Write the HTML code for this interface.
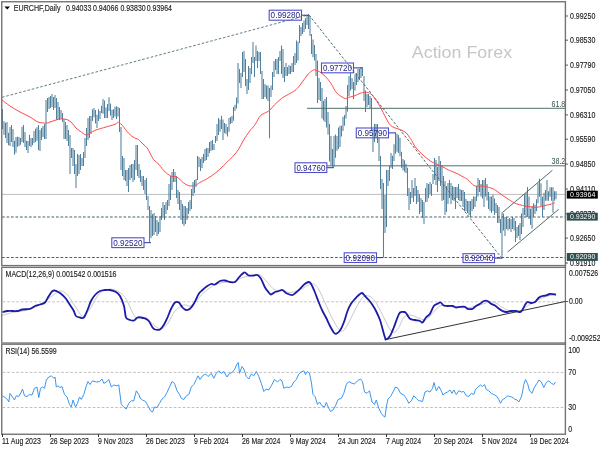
<!DOCTYPE html><html><head><meta charset="utf-8"><title>EURCHF Daily</title><style>
html,body{margin:0;padding:0;background:#fff;width:600px;height:450px;overflow:hidden}
svg{display:block}
text{font-family:"Liberation Sans", Arial, sans-serif;}
.t{stroke:#222;stroke-width:0.15px;paint-order:stroke}
</style></head><body>
<svg width="600" height="450" viewBox="0 0 600 450">
<rect x="0" y="0" width="600" height="450" fill="#fff"/>
<text x="411.8" y="58.4" font-size="16.9" fill="#c6c6c6" textLength="100.3" lengthAdjust="spacingAndGlyphs">Action Forex</text>
<defs><clipPath id="cm"><rect x="2" y="2" width="563" height="263"/></clipPath><clipPath id="cd"><rect x="2" y="267" width="564" height="76"/></clipPath><clipPath id="cr"><rect x="2" y="344.5" width="564" height="89.5"/></clipPath></defs>
<g clip-path="url(#cm)">
<line x1="2" y1="194.4" x2="566" y2="194.4" stroke="#bdbdbd" stroke-width="1"/>
<path d="M2.5 109V129M4 121.3V134.7M5.5 122.7V138M7 122V143M8.5 132.7V145.3M10 127V146M11.5 125V142M13 129V147M14.5 140.7V154.7M16 137V152.7M17.5 136.7V146.7M19 137V146M20.5 138V144.7M22 126.7V142M23.5 125V143M25 132V147M26.5 140.7V150M28 141V153M29.5 134.7V146M31 138V147.3M32.5 138V145.3M34 131V143M35.5 128.7V142M37 127.3V140.7M38.5 125V150M40 130V151M41.5 128V140M43 126V137M44.5 124V139M46 100V139M47.5 98V112M49 97V109M50.5 96V108M52 94V107M53.5 97V110M55 95V108M56.5 98V120M58 102V119M59.5 107V120M61 110V119M62.5 113V122M64 119V139M65.5 122V139M67 125V141M68.5 130V146M70 135V174M71.5 148V158M73 148V166M74.5 150V174M76 164V188M77.5 154V176M79 155V174M80.5 154V170M82 158V166M83.5 152V166M85 138V158M86.5 128V146M88 118V140M89.5 116V138M91 116V134M92.5 109.3V121M94 108V117.3M95.5 110V123.5M97 114.7V128M98.5 109.3V121M100 111V119M101.5 105.8V113M103 99V113.8M104.5 100.4V118M106 107.6V118M107.5 104V118M109 97.3V111M110.5 103.55V115.5M112 109.8V120M113.5 109.3V118M115 106.7V116.4M116.5 106.2V119M118 107V116.4M119.5 108V132M121 127V170M122.5 156V176M124 158V180M125.5 170V181M127 170V186M128.5 168V192M130 165V180M131.5 164V178M133 164V182M134.5 160V180M136 145V170M137.5 145V176M139 164V178M140.5 170V182M142 176V186M143.5 176V190M145 180V194M146.5 178V200M148 196V210M149.5 206V242.5M151 210V238M152.5 214V236M154 213V235M155.5 216V232M157 220V236M158.5 222V234M160 216V232M161.5 208V220M163 202V218M164.5 205V220M166 202V214M167.5 200V210M169 184V206M170.5 176V200M172 172V190M173.5 169V182M175 172V182M176.5 176V198M178 190V204M179.5 192V210M181 200V220M182.5 204V224M184 206V226M185.5 206V224M187 208V220M188.5 202V214M190 200V211M191.5 189V209M193 182V196M194.5 180V193M196 179V187M197.5 156V180M199 157V167M200.5 159V171M202 157V168M203.5 154V163M205 149V161M206.5 148V160M208 148V157M209.5 142V153M211 141V151M212.5 140V150M214 144V150M215.5 136V143M217 124V141M218.5 118V135M220 119.5V131.7M221.5 115.8V129M223 119.5V140M224.5 123V133M226 124V134M227.5 127V136.5M229 118V131.7M230.5 117V124M232 115.8V123M233.5 107V120.7M235 104.8V111M236.5 97.4V108.4M238 63V103.6M239.5 69V83M241 73V88M242.5 52V77M244 51V72M245.5 59V86M247 79V94M248.5 66V90M250 68V83M251.5 57V74M253 42V63M254.5 57V77M256 45.5V61M257.5 51V68M259 52V61M260.5 52V74M262 71V99M263.5 79V99M265 84V97M266.5 85.5V99M268 85.5V101M269.5 88V138.3M271 85.5V97M272.5 72V90M274 61V77M275.5 59V70M277 59V74M278.5 57V74M280 51V61M281.5 45.5V74M283 49V78M284.5 67V82M286 63V76M287.5 67V76M289 65V74M290.5 66V74M292 63V72M293.5 56V72M295 53V65M296.5 40.5V63M298 41.7V60.5M299.5 25V43M301 27V36M302.5 23V34M304 20.5V32M305.5 18V29M307 15V25M308.5 14V29M310 16V36M311.5 34V54M313 39.5V57.25M314.5 45V60.5M316 54V76M317.5 60.5V103M319 78V100M320.5 82V101M322 88V118.6M323.5 100.7V120.4M325 99V122M326.5 97V127.5M328 112V134.6M329.5 124V161.4M331 136V165M332.5 149V166.8M334 136V166.8M335.5 134.6V157.8M337 136V150.7M338.5 127.5V149M340 125.7V147M341.5 125.7V136.4M343 116.8V131M344.5 115V125.7M346 106V118.6M347.5 85V111.4M349 76V96M350.5 73V90.5M352 78V89M353.5 82V99M355 74.5V90.5M356.5 73V85M358 69V82M359.5 69V80M361 67V78M362.5 67V76M364 76V101M365.5 90.5V112M367 94V107M368.5 94V105M370 96V108M371.5 98V131M373 129V152M374.5 124V142M376 124V138M377.5 124V143M379 138V161M380.5 156V189M382 179V209M383.5 183V257M385 195V233M386.5 170V227M388 170V186M389.5 166V181M391 153V167.7M392.5 155.7V169M394 144.3V161M395.5 133V153.7M397 133.7V151.7M398.5 135V153M400 137.7V156.3M401.5 151.7V167.7M403 159V170.3M404.5 160.3V171.7M406 163.7V173M407.5 167.7V196M409 188V210M410.5 192V204M412 180V198M413.5 188V202M415 178V196M416.5 186V204M418 190V202M419.5 194V214M421 198V212M422.5 200V218M424 202V224M425.5 188V202M427 183V202M428.5 184V198M430 182V194M431.5 184V196M433 174V184M434.5 158V180M436 160V185M437.5 167V192M439 156V181M440.5 161V186M442 165.5V201M443.5 176V200M445 181V215M446.5 186V212M448 183V204M449.5 180V198M451 183V204M452.5 186V200M454 187V201M455.5 187V209M457 187V198M458.5 184V200M460 189V201M461.5 190V201M463 190V207M464.5 192V211M466 199V211M467.5 201V213M469 201V215M470.5 201V217M472 199V211M473.5 196.5V209M475 196.5V207M476.5 186V201M478 178V196.5M479.5 180V192M481 184V196.5M482.5 180V198.5M484 180V207M485.5 178V196.5M487 184V200.6M488.5 192V209M490 196.5V211M491.5 196.5V213M493 194.5V211M494.5 198.5V215M496 203V213M497.5 205V223M499 207V223M500.5 219V233M502 212.4V258.4M503.5 213.5V230.5M505 217V236M506.5 217V229M508 219V230.5M509.5 218V229M511 219V232M512.5 217V229M514 218V230.5M515.5 221V242M517 227V238M518.5 225V236M520 223V240M521.5 213.5V234M523 208V227M524.5 194.5V215M526 193V217M527.5 187V217M529 196.5V219M530.5 208.7V224.7M532 206V228.7M533.5 203.3V216.7M535 204.7V214M536.5 199.3V211.3M538 183.3V203.3M539.5 178.7V196.7M541 183.3V206M542.5 196.7V216.7M544 192.7V210M545.5 190V200.7M547 180V200.7M548.5 191.3V200.7M550 187.3V196.7M551.5 187.3V200.7M553 187.3V212.7M554.5 191.3V200.7M556 191.3V199.3" stroke="#52819f" stroke-width="1.05" fill="none"/>
<line x1="2" y1="217" x2="566" y2="217" stroke="#456464" stroke-width="1.1" stroke-dasharray="2.7,1.8"/>
<line x1="2" y1="257.5" x2="566" y2="257.5" stroke="#456464" stroke-width="1.1" stroke-dasharray="2.7,1.8"/>
<line x1="307" y1="108.3" x2="566" y2="108.3" stroke="#4f6f6a" stroke-width="1"/>
<line x1="326.8" y1="165.8" x2="566" y2="165.8" stroke="#4f6f6a" stroke-width="1"/>
<text x="551.5" y="106.9" font-size="8.73" textLength="13.82" lengthAdjust="spacingAndGlyphs" fill="#2f4f4f">61.8</text>
<text x="551.5" y="164.4" font-size="8.73" textLength="13.82" lengthAdjust="spacingAndGlyphs" fill="#2f4f4f">38.2</text>
<line x1="2" y1="97.3" x2="308" y2="15" stroke="#648080" stroke-width="1" stroke-dasharray="2.6,1.8"/>
<line x1="309" y1="15" x2="501.8" y2="258.2" stroke="#4a6a6a" stroke-width="1" stroke-dasharray="2.6,1.8"/>
<line x1="502.4" y1="212.5" x2="552.4" y2="170.3" stroke="#3d5c5c" stroke-width="0.9"/>
<line x1="507.7" y1="251.9" x2="558.7" y2="209.3" stroke="#3d5c5c" stroke-width="0.9"/>
<path d="M2,100C3.33,101.00 7.00,104.00 10,106C13.00,108.00 16.67,110.17 20,112C23.33,113.83 27.00,115.33 30,117C33.00,118.67 35.33,121.00 38,122C40.67,123.00 44.00,123.00 46,123C48.00,123.00 48.33,122.50 50,122C51.67,121.50 54.33,120.50 56,120C57.67,119.50 58.67,119.17 60,119C61.33,118.83 62.67,118.83 64,119C65.33,119.17 66.67,119.33 68,120C69.33,120.67 70.67,121.67 72,123C73.33,124.33 74.67,126.67 76,128C77.33,129.33 78.33,129.83 80,131C81.67,132.17 84.33,134.67 86,135C87.67,135.33 88.33,133.83 90,133C91.67,132.17 93.33,131.00 96,130C98.67,129.00 102.83,127.95 106,127C109.17,126.05 112.92,125.10 115,124.3C117.08,123.50 117.50,122.25 118.5,122.2C119.50,122.15 120.08,123.12 121,124C121.92,124.88 123.00,126.25 124,127.5C125.00,128.75 126.00,130.33 127,131.5C128.00,132.67 129.00,133.58 130,134.5C131.00,135.42 132.00,136.33 133,137C134.00,137.67 135.08,138.08 136,138.5C136.92,138.92 137.67,138.92 138.5,139.5C139.33,140.08 140.08,141.08 141,142C141.92,142.92 143.00,144.03 144,145C145.00,145.97 146.00,146.47 147,147.8C148.00,149.13 148.92,151.05 150,153C151.08,154.95 152.02,157.60 153.5,159.5C154.98,161.40 157.48,162.90 158.9,164.4C160.32,165.90 160.98,167.27 162,168.5C163.02,169.73 163.50,170.52 165,171.8C166.50,173.08 169.17,175.38 171,176.2C172.83,177.02 174.50,176.15 176,176.7C177.50,177.25 178.77,178.48 180,179.5C181.23,180.52 182.23,181.88 183.4,182.8C184.57,183.72 185.78,184.47 187,185C188.22,185.53 189.27,185.97 190.7,186C192.13,186.03 194.05,185.78 195.6,185.2C197.15,184.62 197.97,183.65 200,182.5C202.03,181.35 205.20,179.90 207.8,178.3C210.40,176.70 213.02,174.97 215.6,172.9C218.18,170.83 220.98,168.10 223.3,165.9C225.62,163.70 227.68,161.52 229.5,159.7C231.32,157.88 232.63,156.82 234.2,155C235.77,153.18 237.35,151.27 238.9,148.8C240.45,146.33 241.68,143.18 243.5,140.2C245.32,137.22 247.98,133.33 249.8,130.9C251.62,128.47 252.87,127.78 254.4,125.6C255.93,123.42 257.73,119.67 259,117.8C260.27,115.93 260.72,115.33 262,114.4C263.28,113.47 265.37,112.93 266.7,112.2C268.03,111.47 268.72,111.20 270,110C271.28,108.80 272.45,106.95 274.4,105C276.35,103.05 279.38,100.07 281.7,98.3C284.02,96.53 286.08,95.68 288.3,94.4C290.52,93.12 293.30,91.83 295,90.6C296.70,89.37 297.38,88.30 298.5,87C299.62,85.70 300.62,84.25 301.7,82.8C302.78,81.35 303.90,79.78 305,78.3C306.10,76.82 307.00,75.23 308.3,73.9C309.60,72.57 311.68,70.95 312.8,70.3C313.92,69.65 313.90,69.77 315,70C316.10,70.23 317.73,70.68 319.4,71.7C321.07,72.72 323.13,74.25 325,76.1C326.87,77.95 328.93,80.38 330.6,82.8C332.27,85.22 333.65,88.62 335,90.6C336.35,92.58 336.98,93.35 338.7,94.7C340.42,96.05 343.92,98.20 345.3,98.7C346.68,99.20 345.55,98.15 347,97.7C348.45,97.25 351.67,96.78 354,96C356.33,95.22 358.88,93.62 361,93C363.12,92.38 364.87,91.97 366.7,92.3C368.53,92.63 369.95,92.92 372,95C374.05,97.08 376.50,100.63 379,104.8C381.50,108.97 385.12,116.63 387,120C388.88,123.37 389.13,123.75 390.3,125C391.47,126.25 392.67,126.83 394,127.5C395.33,128.17 396.97,128.50 398.3,129C399.63,129.50 400.67,129.83 402,130.5C403.33,131.17 405.02,131.83 406.3,133C407.58,134.17 408.80,136.25 409.7,137.5C410.60,138.75 410.82,139.00 411.7,140.5C412.58,142.00 413.73,144.67 415,146.5C416.27,148.33 417.80,149.92 419.3,151.5C420.80,153.08 422.38,154.58 424,156C425.62,157.42 427.50,158.92 429,160C430.50,161.08 431.38,161.67 433,162.5C434.62,163.33 437.03,164.25 438.7,165C440.37,165.75 441.38,166.18 443,167C444.62,167.82 446.73,169.10 448.4,169.9C450.07,170.70 451.40,171.12 453,171.8C454.60,172.48 456.33,173.17 458,174C459.67,174.83 461.37,175.87 463,176.8C464.63,177.73 465.97,178.15 467.8,179.6C469.63,181.05 472.13,184.43 474,185.5C475.87,186.57 477.37,185.88 479,186C480.63,186.12 482.22,185.98 483.8,186.2C485.38,186.42 486.90,186.83 488.5,187.3C490.10,187.77 491.82,188.22 493.4,189C494.98,189.78 496.40,190.88 498,192C499.60,193.12 501.33,194.53 503,195.7C504.67,196.87 506.38,197.95 508,199C509.62,200.05 511.20,201.17 512.7,202C514.20,202.83 515.38,203.43 517,204C518.62,204.57 520.73,204.98 522.4,205.4C524.07,205.82 525.40,206.23 527,206.5C528.60,206.77 530.33,206.87 532,207C533.67,207.13 535.38,207.42 537,207.3C538.62,207.18 540.20,206.63 541.7,206.3C543.20,205.97 544.38,205.68 546,205.3C547.62,204.92 549.90,204.45 551.4,204C552.90,203.55 554.40,202.83 555,202.6" fill="none" stroke="#ff4a4a" stroke-width="1"/>
<line x1="301.5" y1="15.2" x2="308.5" y2="15.2" stroke="#3030a0" stroke-width="1"/>
<rect x="269.2" y="10.2" width="32.3" height="10.0" fill="none" stroke="#5050c8" stroke-width="1.1"/>
<text x="270.6" y="18.2" font-size="8.4" fill="#24248c" textLength="29.5" lengthAdjust="spacingAndGlyphs">0.99280</text>
<line x1="353.5" y1="67.9" x2="362.0" y2="67.9" stroke="#3030a0" stroke-width="1"/>
<rect x="321.5" y="63.0" width="32.0" height="9.8" fill="none" stroke="#5050c8" stroke-width="1.1"/>
<text x="322.9" y="70.9" font-size="8.4" fill="#24248c" textLength="29.2" lengthAdjust="spacingAndGlyphs">0.97720</text>
<line x1="388.5" y1="132.9" x2="396.0" y2="132.9" stroke="#3030a0" stroke-width="1"/>
<rect x="356.3" y="128.0" width="32.2" height="9.8" fill="none" stroke="#5050c8" stroke-width="1.1"/>
<text x="357.7" y="135.9" font-size="8.4" fill="#24248c" textLength="29.4" lengthAdjust="spacingAndGlyphs">0.95790</text>
<line x1="326.8" y1="167.7" x2="334.0" y2="167.7" stroke="#3030a0" stroke-width="1"/>
<rect x="295.0" y="162.8" width="31.8" height="9.7" fill="none" stroke="#5050c8" stroke-width="1.1"/>
<text x="296.4" y="170.7" font-size="8.4" fill="#24248c" textLength="29.0" lengthAdjust="spacingAndGlyphs">0.94760</text>
<line x1="144.0" y1="242.7" x2="151.0" y2="242.7" stroke="#3030a0" stroke-width="1"/>
<rect x="111.8" y="237.8" width="32.2" height="9.8" fill="none" stroke="#5050c8" stroke-width="1.1"/>
<text x="113.2" y="245.7" font-size="8.4" fill="#24248c" textLength="29.4" lengthAdjust="spacingAndGlyphs">0.92520</text>
<line x1="376.5" y1="257.6" x2="383.5" y2="257.6" stroke="#3030a0" stroke-width="1"/>
<rect x="344.2" y="252.8" width="32.3" height="9.7" fill="none" stroke="#5050c8" stroke-width="1.1"/>
<text x="345.6" y="260.6" font-size="8.4" fill="#24248c" textLength="29.5" lengthAdjust="spacingAndGlyphs">0.92090</text>
<line x1="494.5" y1="258.1" x2="502.0" y2="258.1" stroke="#3030a0" stroke-width="1"/>
<rect x="463.0" y="253.7" width="31.5" height="8.9" fill="none" stroke="#5050c8" stroke-width="1.1"/>
<text x="464.4" y="261.1" font-size="8.4" fill="#24248c" textLength="28.7" lengthAdjust="spacingAndGlyphs">0.92040</text>
</g>
<path d="M4.4 6.5 L10 6.5 L7.2 9.5 Z" fill="#000"/>
<text x="13.8" y="10.6" class="t" font-size="8.61" textLength="46.67" lengthAdjust="spacingAndGlyphs" fill="#222">EURCHF,Daily</text>
<text x="66" y="10.6" class="t" font-size="8.61" textLength="25.30" lengthAdjust="spacingAndGlyphs" fill="#222">0.94033</text>
<text x="93" y="10.6" class="t" font-size="8.61" textLength="25.30" lengthAdjust="spacingAndGlyphs" fill="#222">0.94066</text>
<text x="120.4" y="10.6" class="t" font-size="8.61" textLength="25.30" lengthAdjust="spacingAndGlyphs" fill="#222">0.93830</text>
<text x="146.7" y="10.6" class="t" font-size="8.61" textLength="25.30" lengthAdjust="spacingAndGlyphs" fill="#222">0.93964</text>
<g clip-path="url(#cd)">
<line x1="2" y1="301.8" x2="566" y2="301.8" stroke="#c4c4c4" stroke-width="1" stroke-dasharray="2.7,1.8" stroke-dashoffset="-0.7"/>
<path d="M2,315.5C3.75,315.00 8.67,313.33 12.5,312.5C16.33,311.67 20.83,311.58 25,310.5C29.17,309.42 33.33,308.17 37.5,306C41.67,303.83 46.25,300.00 50,297.5C53.75,295.00 57.08,291.42 60,291C62.92,290.58 65.00,292.50 67.5,295C70.00,297.50 72.50,302.50 75,306C77.50,309.50 80.00,315.50 82.5,316C85.00,316.50 87.50,312.33 90,309C92.50,305.67 95.00,299.17 97.5,296C100.00,292.83 102.08,291.00 105,290C107.92,289.00 111.67,288.75 115,290C118.33,291.25 122.08,293.75 125,297.5C127.92,301.25 130.67,309.17 132.5,312.5C134.33,315.83 133.92,316.67 136,317.5C138.08,318.33 143.08,317.28 145,317.5C146.92,317.72 145.83,317.38 147.5,318.8C149.17,320.22 152.75,324.33 155,326C157.25,327.67 158.92,329.17 161,328.8C163.08,328.43 165.17,326.77 167.5,323.8C169.83,320.83 172.25,314.13 175,311C177.75,307.87 181.50,305.83 184,305C186.50,304.17 188.00,306.67 190,306C192.00,305.33 193.67,303.25 196,301C198.33,298.75 201.25,295.00 204,292.5C206.75,290.00 209.42,287.67 212.5,286C215.58,284.33 219.17,283.17 222.5,282.5C225.83,281.83 229.17,282.83 232.5,282C235.83,281.17 239.17,278.58 242.5,277.5C245.83,276.42 249.58,275.92 252.5,275.5C255.42,275.08 257.50,273.83 260,275C262.50,276.17 265.00,280.00 267.5,282.5C270.00,285.00 272.08,288.58 275,290C277.92,291.42 282.50,290.58 285,291C287.50,291.42 287.50,292.67 290,292.5C292.50,292.33 296.50,291.45 300,290C303.50,288.55 308.08,284.22 311,283.8C313.92,283.38 315.37,284.80 317.5,287.5C319.63,290.20 321.72,295.62 323.8,300C325.88,304.38 327.72,309.22 330,313.8C332.28,318.38 335.42,324.63 337.5,327.5C339.58,330.37 340.83,331.42 342.5,331C344.17,330.58 345.42,328.50 347.5,325C349.58,321.50 352.50,314.58 355,310C357.50,305.42 360.20,299.83 362.5,297.5C364.80,295.17 366.72,295.42 368.8,296C370.88,296.58 372.72,297.83 375,301C377.28,304.17 380.20,310.58 382.5,315C384.80,319.42 386.92,324.58 388.8,327.5C390.68,330.42 392.13,332.50 393.8,332.5C395.47,332.50 397.13,330.00 398.8,327.5C400.47,325.00 401.93,319.58 403.8,317.5C405.67,315.42 407.72,315.00 410,315C412.28,315.00 415.00,316.67 417.5,317.5C420.00,318.33 422.92,320.25 425,320C427.08,319.75 427.50,318.33 430,316C432.50,313.67 436.67,307.67 440,306C443.33,304.33 446.67,305.75 450,306C453.33,306.25 456.67,307.25 460,307.5C463.33,307.75 466.67,307.92 470,307.5C473.33,307.08 477.08,305.83 480,305C482.92,304.17 485.00,302.92 487.5,302.5C490.00,302.08 492.50,301.67 495,302.5C497.50,303.33 500.00,306.12 502.5,307.5C505.00,308.88 507.08,310.22 510,310.8C512.92,311.38 517.08,311.80 520,311C522.92,310.20 524.58,307.83 527.5,306C530.42,304.17 534.17,301.67 537.5,300C540.83,298.33 544.42,296.83 547.5,296C550.58,295.17 554.58,295.17 556,295" fill="none" stroke="#c8c8c8" stroke-width="1"/>
<line x1="386" y1="339.5" x2="566" y2="301.3" stroke="#333" stroke-width="1"/>
<path d="M2.5,312C3.33,311.83 5.83,311.17 7.5,311C9.17,310.83 10.83,311.00 12.5,311C14.17,311.00 15.83,311.25 17.5,311C19.17,310.75 20.42,309.87 22.5,309.5C24.58,309.13 27.92,309.38 30,308.8C32.08,308.22 33.33,306.72 35,306C36.67,305.28 38.33,305.08 40,304.5C41.67,303.92 43.53,303.92 45,302.5C46.47,301.08 47.55,297.92 48.8,296C50.05,294.08 51.30,291.87 52.5,291C53.70,290.13 54.58,290.33 56,290.8C57.42,291.27 59.33,292.47 61,293.8C62.67,295.13 64.50,296.93 66,298.8C67.50,300.67 68.70,302.97 70,305C71.30,307.03 72.80,309.17 73.8,311C74.80,312.83 74.97,314.92 76,316C77.03,317.08 78.70,317.25 80,317.5C81.30,317.75 82.55,318.75 83.8,317.5C85.05,316.25 86.30,312.75 87.5,310C88.70,307.25 89.75,303.50 91,301C92.25,298.50 93.50,296.67 95,295C96.50,293.33 98.33,291.83 100,291C101.67,290.17 103.33,290.17 105,290C106.67,289.83 108.17,289.67 110,290C111.83,290.33 114.33,291.00 116,292C117.67,293.00 118.67,293.67 120,296C121.33,298.33 123.00,302.42 124,306C125.00,309.58 125.00,315.17 126,317.5C127.00,319.83 128.67,319.50 130,320C131.33,320.50 132.75,320.92 134,320.5C135.25,320.08 136.33,318.00 137.5,317.5C138.67,317.00 139.75,317.33 141,317.5C142.25,317.67 143.70,317.92 145,318.5C146.30,319.08 147.55,319.50 148.8,321C150.05,322.50 151.47,326.08 152.5,327.5C153.53,328.92 153.75,329.17 155,329.5C156.25,329.83 158.53,330.25 160,329.5C161.47,328.75 162.55,327.00 163.8,325C165.05,323.00 166.30,320.17 167.5,317.5C168.70,314.83 169.75,311.50 171,309C172.25,306.50 173.70,303.58 175,302.5C176.30,301.42 177.55,301.67 178.8,302.5C180.05,303.33 181.30,306.25 182.5,307.5C183.70,308.75 184.75,309.78 186,310C187.25,310.22 188.70,309.83 190,308.8C191.30,307.77 192.33,306.30 193.8,303.8C195.27,301.30 197.35,296.10 198.8,293.8C200.25,291.50 201.30,291.13 202.5,290C203.70,288.87 204.58,288.00 206,287C207.42,286.00 209.50,284.42 211,284C212.50,283.58 213.50,285.00 215,284.5C216.50,284.00 218.33,281.67 220,281C221.67,280.33 223.33,280.33 225,280.5C226.67,280.67 228.33,281.75 230,282C231.67,282.25 233.53,282.75 235,282C236.47,281.25 237.55,278.87 238.8,277.5C240.05,276.13 241.47,274.63 242.5,273.8C243.53,272.97 243.95,272.22 245,272.5C246.05,272.78 247.33,275.00 248.8,275.5C250.27,276.00 252.35,275.58 253.8,275.5C255.25,275.42 256.30,274.45 257.5,275C258.70,275.55 259.75,276.72 261,278.8C262.25,280.88 263.70,285.22 265,287.5C266.30,289.78 267.80,291.33 268.8,292.5C269.80,293.67 269.97,294.58 271,294.5C272.03,294.42 273.70,292.58 275,292C276.30,291.42 277.55,291.33 278.8,291C280.05,290.67 281.30,289.67 282.5,290C283.70,290.33 284.83,292.25 286,293C287.17,293.75 288.42,294.17 289.5,294.5C290.58,294.83 291.42,295.33 292.5,295C293.58,294.67 294.75,293.53 296,292.5C297.25,291.47 298.50,290.25 300,288.8C301.50,287.35 303.53,284.93 305,283.8C306.47,282.67 307.80,282.00 308.8,282C309.80,282.00 309.97,282.05 311,283.8C312.03,285.55 313.70,289.38 315,292.5C316.30,295.62 317.55,299.42 318.8,302.5C320.05,305.58 321.30,308.50 322.5,311C323.70,313.50 324.75,315.00 326,317.5C327.25,320.00 328.70,323.50 330,326C331.30,328.50 332.80,331.20 333.8,332.5C334.80,333.80 334.97,334.13 336,333.8C337.03,333.47 338.70,332.38 340,330.5C341.30,328.62 342.55,325.75 343.8,322.5C345.05,319.25 346.30,314.12 347.5,311C348.70,307.88 349.75,305.83 351,303.8C352.25,301.77 353.70,300.27 355,298.8C356.30,297.33 357.63,295.97 358.8,295C359.97,294.03 360.97,292.83 362,293C363.03,293.17 363.87,294.83 365,296C366.13,297.17 367.55,298.50 368.8,300C370.05,301.50 371.30,303.17 372.5,305C373.70,306.83 374.75,308.50 376,311C377.25,313.50 378.92,317.03 380,320C381.08,322.97 381.67,325.88 382.5,328.8C383.33,331.72 384.42,335.72 385,337.5C385.58,339.28 385.17,339.75 386,339.5C386.83,339.25 388.70,338.00 390,336C391.30,334.00 392.55,330.58 393.8,327.5C395.05,324.42 396.47,320.00 397.5,317.5C398.53,315.00 398.95,313.42 400,312.5C401.05,311.58 402.80,311.92 403.8,312C404.80,312.08 404.97,311.87 406,313C407.03,314.13 408.50,317.63 410,318.8C411.50,319.97 413.33,319.63 415,320C416.67,320.37 418.75,320.58 420,321C421.25,321.42 421.50,323.08 422.5,322.5C423.50,321.92 424.75,318.95 426,317.5C427.25,316.05 428.70,315.72 430,313.8C431.30,311.88 432.55,307.67 433.8,306C435.05,304.33 436.38,304.38 437.5,303.8C438.62,303.22 439.45,302.22 440.5,302.5C441.55,302.78 442.63,304.92 443.8,305.5C444.97,306.08 446.05,305.92 447.5,306C448.95,306.08 451.08,305.75 452.5,306C453.92,306.25 454.75,307.37 456,307.5C457.25,307.63 458.50,306.92 460,306.8C461.50,306.68 463.75,306.47 465,306.8C466.25,307.13 466.25,308.47 467.5,308.8C468.75,309.13 471.08,309.27 472.5,308.8C473.92,308.33 474.75,306.83 476,306C477.25,305.17 478.67,304.63 480,303.8C481.33,302.97 482.75,301.47 484,301C485.25,300.53 486.33,300.53 487.5,301C488.67,301.47 489.75,303.05 491,303.8C492.25,304.55 493.67,304.67 495,305.5C496.33,306.33 497.75,307.88 499,308.8C500.25,309.72 501.33,310.47 502.5,311C503.67,311.53 504.58,312.00 506,312C507.42,312.00 509.33,311.17 511,311C512.67,310.83 514.33,310.87 516,311C517.67,311.13 519.50,312.80 521,311.8C522.50,310.80 523.92,306.63 525,305C526.08,303.37 526.50,302.33 527.5,302C528.50,301.67 529.75,303.00 531,303C532.25,303.00 533.67,302.92 535,302C536.33,301.08 537.75,298.50 539,297.5C540.25,296.50 541.33,296.33 542.5,296C543.67,295.67 544.75,295.83 546,295.5C547.25,295.17 548.33,294.17 550,294C551.67,293.83 555.00,294.42 556,294.5" fill="none" stroke="#1b1ba6" stroke-width="1.8" stroke-linejoin="round"/>
</g>
<text x="5.6" y="277" class="t" font-size="8.61" textLength="110.91" lengthAdjust="spacingAndGlyphs" fill="#222">MACD(12,26,9) 0.001542 0.001516</text>
<g clip-path="url(#cr)">
<line x1="2" y1="372.4" x2="566" y2="372.4" stroke="#c0c0c0" stroke-width="1" stroke-dasharray="2.7,1.8" stroke-dashoffset="-0.7"/>
<line x1="2" y1="407.5" x2="566" y2="407.5" stroke="#c0c0c0" stroke-width="1" stroke-dasharray="2.7,1.8" stroke-dashoffset="-0.7"/>
<polyline points="2.5,395.8 5,397.5 7.5,399.5 8.8,402 10,393.3 12.5,397 14.5,400 16.3,395.8 18.8,396.5 21.3,392 22.5,389 24.5,395.8 27,396.5 29.5,394.5 32,395 34.5,388.3 37,387 38.8,397.5 40.5,388.3 42.5,387 44.5,388.3 46.3,380 48.8,377 51.3,375.8 53.8,378.3 55,377 56.3,387 58,385.8 60,387.5 62,386.5 64.5,394.5 67,397 69.5,404.5 71.3,407 73,400 75.5,407 77.5,403.3 79.5,397 81.3,399.5 83.8,394.5 86.3,385.8 88,381.5 90,384.5 92.5,380.8 96.3,382 99.5,381.5 102,379 103.8,383.3 106.3,382 108.8,379.5 111.3,387 113.8,385 116.3,385.8 118.8,385 121.3,404.5 123.8,407 126.3,409 128.8,403.3 131.3,400.8 133.8,400.8 136.3,390.8 138.8,394.5 140,398 142.5,400 145.5,401.5 148,405.8 150.5,410.8 152.5,412 154.5,407 157,407.5 159.5,403.3 162,399 164.5,397 167,392.5 169.5,387 172,381.5 174.5,383.3 177,390.8 179.5,394.5 181.3,398.3 183.8,399.5 186.3,395.8 188.8,394.5 191.3,387 193.8,384.5 196.3,379.5 198,375.8 200,379.5 202.5,375.8 205.5,374 208,376.5 211.3,373.3 213.8,378.3 216.3,373.3 218.8,370.8 221.3,373.3 223.8,371.5 227,377 229.5,373.3 232,372.5 234.5,369.5 237,364 238.3,362.5 239.5,373.3 242,366.5 243.8,369 246.3,376.5 248.8,379 251.3,374 253.8,375.8 256.3,371.5 258.8,376.5 261.3,383.3 263.8,391.5 266.3,389 268.8,390 271.3,385.8 274.5,379.5 277.5,382 280,379.5 282,380.8 283.8,388.3 286.3,387 288.8,387.5 291.3,386.5 293.8,382 296.3,379.5 298.8,374 301.3,372 303.8,370.8 305.5,374.5 307.5,371.5 309.5,373.3 311.3,382 313,394.5 315,396.5 317.5,404.5 319.5,402 322,405.8 324.5,407 326.3,402.5 328.8,408.3 330.5,411.5 333,410 335.5,405.8 338,399.5 341.3,398.3 343.8,393.3 346.3,384.5 348.8,381.5 352,383.3 354.5,384 357.5,380.8 360.5,379 362.5,381.5 364.5,392 367,393.3 369.5,390.8 372,402 374.5,404.5 376.3,400 378.8,408.3 381.3,413.3 383.8,416.5 385,417 386.3,407 388,399 390.5,396.5 393,392 395.5,387 398,388.3 400.5,393.3 403.8,395 406.3,398.3 408.8,403.3 411.3,400.8 413.8,395.8 416.3,398.3 418.8,400.8 420,400.8 422.5,401.5 425,392 427.5,390.8 430,392 432.5,388.3 434,382.5 436.3,390.8 438.8,386.5 441.3,390.8 443,395 445,393.3 447.5,392 450,390 452,393.3 453.8,390 456.3,394.5 458.8,390.8 461.3,392 463.8,391.5 466.3,395.8 468.8,396.5 471.3,393.3 473.8,394.5 475.5,389.5 478,387 480.5,385 482.5,386.5 484.5,384.5 486.3,389.5 488.8,390.8 491.3,393.3 493.8,394.5 496.3,395.8 498.8,399.5 500.5,403.3 502.5,399.5 505,398.3 507.5,395.8 509.5,396.5 512,397 514.5,399 517,400 518.8,402 521.3,397 522.5,392 523.8,384.5 525.5,379.5 527.5,383.3 529.5,390.8 532,393.3 534.5,387 537,383.3 538.8,380 541.3,382 543.8,387.5 546.3,382.5 548.8,380.8 551.3,383.3 553.8,384.5 555.5,382" fill="none" stroke="#3a96f0" stroke-width="1"/>
</g>
<text x="5.4" y="353.6" class="t" font-size="8.61" textLength="51.37" lengthAdjust="spacingAndGlyphs" fill="#222">RSI(14) 56.5599</text>
<rect x="1.75" y="1.75" width="563.65" height="263.85" fill="none" stroke="#747474" stroke-width="1.4"/>
<rect x="1.75" y="267.4" width="563.65" height="75.6" fill="none" stroke="#747474" stroke-width="1.3"/>
<rect x="1.75" y="344.2" width="563.65" height="90.05" fill="none" stroke="#747474" stroke-width="1.4"/>
<line x1="565.4" y1="265" x2="565.4" y2="268" stroke="#747474" stroke-width="1.4"/>
<line x1="565.4" y1="342" x2="565.4" y2="345" stroke="#747474" stroke-width="1.4"/>
<line x1="565.4" y1="16.0" x2="568" y2="16.0" stroke="#333" stroke-width="0.8"/>
<text x="570" y="18.6" class="t" font-size="8.61" textLength="25.30" lengthAdjust="spacingAndGlyphs" fill="#222">0.99250</text>
<line x1="565.4" y1="40.2" x2="568" y2="40.2" stroke="#333" stroke-width="0.8"/>
<text x="570" y="42.8" class="t" font-size="8.61" textLength="25.30" lengthAdjust="spacingAndGlyphs" fill="#222">0.98530</text>
<line x1="565.4" y1="65.1" x2="568" y2="65.1" stroke="#333" stroke-width="0.8"/>
<text x="570" y="67.7" class="t" font-size="8.61" textLength="25.30" lengthAdjust="spacingAndGlyphs" fill="#222">0.97790</text>
<line x1="565.4" y1="90.0" x2="568" y2="90.0" stroke="#333" stroke-width="0.8"/>
<text x="570" y="92.6" class="t" font-size="8.61" textLength="25.30" lengthAdjust="spacingAndGlyphs" fill="#222">0.97050</text>
<line x1="565.4" y1="114.9" x2="568" y2="114.9" stroke="#333" stroke-width="0.8"/>
<text x="570" y="117.5" class="t" font-size="8.61" textLength="25.30" lengthAdjust="spacingAndGlyphs" fill="#222">0.96310</text>
<line x1="565.4" y1="139.2" x2="568" y2="139.2" stroke="#333" stroke-width="0.8"/>
<text x="570" y="141.8" class="t" font-size="8.61" textLength="25.30" lengthAdjust="spacingAndGlyphs" fill="#222">0.95590</text>
<line x1="565.4" y1="164.1" x2="568" y2="164.1" stroke="#333" stroke-width="0.8"/>
<text x="570" y="166.7" class="t" font-size="8.61" textLength="25.30" lengthAdjust="spacingAndGlyphs" fill="#222">0.94850</text>
<line x1="565.4" y1="189.0" x2="568" y2="189.0" stroke="#333" stroke-width="0.8"/>
<text x="570" y="191.6" class="t" font-size="8.61" textLength="25.30" lengthAdjust="spacingAndGlyphs" fill="#222">0.94110</text>
<line x1="565.4" y1="213.9" x2="568" y2="213.9" stroke="#333" stroke-width="0.8"/>
<text x="570" y="216.5" class="t" font-size="8.61" textLength="25.30" lengthAdjust="spacingAndGlyphs" fill="#222">0.93370</text>
<line x1="565.4" y1="238.1" x2="568" y2="238.1" stroke="#333" stroke-width="0.8"/>
<text x="570" y="240.7" class="t" font-size="8.61" textLength="25.30" lengthAdjust="spacingAndGlyphs" fill="#222">0.92650</text>
<line x1="565.4" y1="263.0" x2="568" y2="263.0" stroke="#333" stroke-width="0.8"/>
<text x="570" y="265.6" class="t" font-size="8.61" textLength="25.30" lengthAdjust="spacingAndGlyphs" fill="#222">0.91910</text>
<rect x="566.8" y="190.7" width="31" height="7.9" fill="#000"/>
<text x="570" y="197.1" font-size="7.4" textLength="25.3" lengthAdjust="spacingAndGlyphs" fill="#fff">0.93964</text>
<rect x="566.8" y="212.7" width="31" height="7.9" fill="#2f4f4f"/>
<text x="570" y="219.1" font-size="7.4" textLength="25.3" lengthAdjust="spacingAndGlyphs" fill="#fff">0.93290</text>
<rect x="566.8" y="253.0" width="31" height="7.9" fill="#2f4f4f"/>
<text x="570" y="259.4" font-size="7.4" textLength="25.3" lengthAdjust="spacingAndGlyphs" fill="#fff">0.92090</text>
<text x="569" y="275.6" class="t" font-size="8.61" textLength="29.20" lengthAdjust="spacingAndGlyphs" fill="#222">0.007526</text>
<text x="569" y="304.3" class="t" font-size="8.61" textLength="13.62" lengthAdjust="spacingAndGlyphs" fill="#222">0.00</text>
<text x="569" y="340.6" class="t" font-size="8.61" textLength="31.53" lengthAdjust="spacingAndGlyphs" fill="#222">-0.009252</text>
<line x1="565.4" y1="301.5" x2="568" y2="301.5" stroke="#333" stroke-width="0.8"/>
<text x="568.3" y="352.6" class="t" font-size="8.61" textLength="11.68" lengthAdjust="spacingAndGlyphs" fill="#222">100</text>
<text x="568.3" y="375.0" class="t" font-size="8.61" textLength="7.79" lengthAdjust="spacingAndGlyphs" fill="#222">70</text>
<text x="568.3" y="410.1" class="t" font-size="8.61" textLength="7.79" lengthAdjust="spacingAndGlyphs" fill="#222">30</text>
<text x="568.3" y="432.1" class="t" font-size="8.61" textLength="3.89" lengthAdjust="spacingAndGlyphs" fill="#222">0</text>
<line x1="2.5" y1="434" x2="2.5" y2="437" stroke="#333" stroke-width="1"/>
<text x="2.0" y="443.7" class="t" font-size="8.73" textLength="38.78" lengthAdjust="spacingAndGlyphs" fill="#222">11 Aug 2023</text>
<line x1="50.5" y1="434" x2="50.5" y2="437" stroke="#333" stroke-width="1"/>
<text x="50.0" y="443.7" class="t" font-size="8.73" textLength="38.78" lengthAdjust="spacingAndGlyphs" fill="#222">26 Sep 2023</text>
<line x1="98.5" y1="434" x2="98.5" y2="437" stroke="#333" stroke-width="1"/>
<text x="98.0" y="443.7" class="t" font-size="8.73" textLength="34.97" lengthAdjust="spacingAndGlyphs" fill="#222">9 Nov 2023</text>
<line x1="146.5" y1="434" x2="146.5" y2="437" stroke="#333" stroke-width="1"/>
<text x="146.0" y="443.7" class="t" font-size="8.73" textLength="38.77" lengthAdjust="spacingAndGlyphs" fill="#222">26 Dec 2023</text>
<line x1="194.5" y1="434" x2="194.5" y2="437" stroke="#333" stroke-width="1"/>
<text x="194.0" y="443.7" class="t" font-size="8.73" textLength="34.59" lengthAdjust="spacingAndGlyphs" fill="#222">9 Feb 2024</text>
<line x1="242.5" y1="434" x2="242.5" y2="437" stroke="#333" stroke-width="1"/>
<text x="242.0" y="443.7" class="t" font-size="8.73" textLength="38.39" lengthAdjust="spacingAndGlyphs" fill="#222">26 Mar 2024</text>
<line x1="290.5" y1="434" x2="290.5" y2="437" stroke="#333" stroke-width="1"/>
<text x="290.0" y="443.7" class="t" font-size="8.73" textLength="35.73" lengthAdjust="spacingAndGlyphs" fill="#222">9 May 2024</text>
<line x1="338.5" y1="434" x2="338.5" y2="437" stroke="#333" stroke-width="1"/>
<text x="338.0" y="443.7" class="t" font-size="8.73" textLength="37.64" lengthAdjust="spacingAndGlyphs" fill="#222">24 Jun 2024</text>
<line x1="386.5" y1="434" x2="386.5" y2="437" stroke="#333" stroke-width="1"/>
<text x="386.0" y="443.7" class="t" font-size="8.73" textLength="34.98" lengthAdjust="spacingAndGlyphs" fill="#222">7 Aug 2024</text>
<line x1="434.5" y1="434" x2="434.5" y2="437" stroke="#333" stroke-width="1"/>
<text x="434.0" y="443.7" class="t" font-size="8.73" textLength="38.78" lengthAdjust="spacingAndGlyphs" fill="#222">20 Sep 2024</text>
<line x1="482.5" y1="434" x2="482.5" y2="437" stroke="#333" stroke-width="1"/>
<text x="482.0" y="443.7" class="t" font-size="8.73" textLength="34.97" lengthAdjust="spacingAndGlyphs" fill="#222">5 Nov 2024</text>
<line x1="530.5" y1="434" x2="530.5" y2="437" stroke="#333" stroke-width="1"/>
<text x="530.0" y="443.7" class="t" font-size="8.73" textLength="38.77" lengthAdjust="spacingAndGlyphs" fill="#222">19 Dec 2024</text>
</svg></body></html>
